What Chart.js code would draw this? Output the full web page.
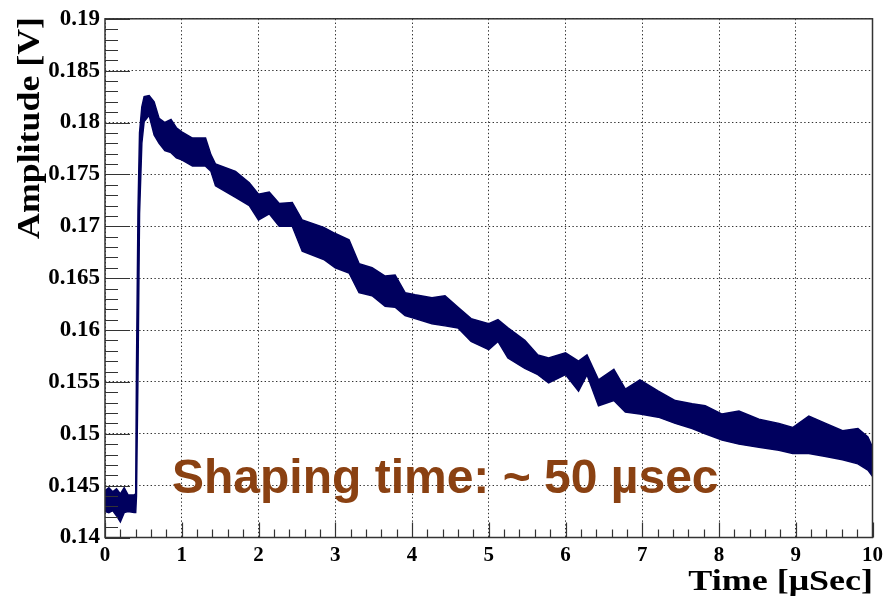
<!DOCTYPE html>
<html>
<head>
<meta charset="utf-8">
<script src="https://cdn.jsdelivr.net/npm/chart.js@4.4.0/dist/chart.umd.min.js"></script>
<style>
  html, body { margin: 0; padding: 0; background: #fff; }
  #wrap { width: 888px; height: 603px; }
</style>
</head>
<body>
<div id="wrap"><canvas id="pulse"></canvas></div>
<script>
// sampled trace envelope (time in usec, amplitude in V)
const times = [
  0.00, 0.05, 0.10, 0.15, 0.20, 0.25, 0.30, 0.38, 0.40, 0.41,
  0.43, 0.45, 0.48, 0.51, 0.575, 0.64, 0.705, 0.78, 0.86, 0.93,
  1.00, 1.14, 1.31, 1.38, 1.44, 1.70, 1.88, 2.00, 2.14, 2.27,
  2.44, 2.57, 2.85, 3.00, 3.18, 3.31, 3.48, 3.65, 3.78, 3.91,
  4.04, 4.26, 4.43, 4.60, 4.77, 5.00, 5.12, 5.25, 5.47, 5.64,
  5.78, 6.00, 6.17, 6.28, 6.43, 6.63, 6.78, 6.97, 7.21, 7.43,
  7.65, 7.82, 8.04, 8.26, 8.52, 8.78, 8.96, 9.17, 9.39, 9.61,
  9.81, 9.94, 10.00];
const upper = [
  0.1445, 0.1448, 0.1444, 0.1447, 0.1442, 0.1448, 0.1441, 0.1441, 0.1442, 0.1560,
  0.1715, 0.1790, 0.1815, 0.1825, 0.1826, 0.1820, 0.1804, 0.1800, 0.1803, 0.1795,
  0.1791, 0.1785, 0.1785, 0.1769, 0.1760, 0.1753, 0.1742, 0.1731, 0.1733, 0.1722,
  0.1723, 0.1706, 0.1699, 0.1693, 0.1687, 0.1664, 0.1660, 0.1652, 0.1653, 0.1636,
  0.1634, 0.1631, 0.1633, 0.1622, 0.1611, 0.1606, 0.1610, 0.1602, 0.1590, 0.1576,
  0.1573, 0.1578, 0.1570, 0.1576, 0.1552, 0.1562, 0.1543, 0.1552, 0.1541, 0.1532,
  0.1529, 0.1527, 0.1519, 0.1522, 0.1514, 0.1510, 0.1506, 0.1517, 0.1510, 0.1503,
  0.1505, 0.1497, 0.1487];
const lower = [
  0.1425, 0.1424, 0.1426, 0.1421, 0.1415, 0.1424, 0.1425, 0.1424, 0.1424, 0.1440,
  0.1560, 0.1712, 0.1780, 0.1801, 0.1807, 0.1788, 0.1780, 0.1773, 0.1771, 0.1766,
  0.1764, 0.1758, 0.1758, 0.1753, 0.1739, 0.1728, 0.1720, 0.1706, 0.1712, 0.1700,
  0.1700, 0.1676, 0.1668, 0.1660, 0.1655, 0.1636, 0.1633, 0.1623, 0.1622, 0.1614,
  0.1611, 0.1606, 0.1604, 0.1602, 0.1589, 0.1581, 0.1589, 0.1573, 0.1563, 0.1557,
  0.1549, 0.1557, 0.1541, 0.1557, 0.1527, 0.1532, 0.1521, 0.1519, 0.1516, 0.1510,
  0.1505, 0.1500, 0.1494, 0.1490, 0.1487, 0.1484, 0.1481, 0.1481, 0.1478, 0.1475,
  0.1471, 0.1465, 0.1459];

const xTicks = [0, 1, 2, 3, 4, 5, 6, 7, 8, 9, 10];
const yTicks = [0.14, 0.145, 0.15, 0.155, 0.16, 0.165, 0.17, 0.175, 0.18, 0.185, 0.19];

const navy = "#00005e";
const brown = "#8a4112";
const serif = "'Liberation Serif', 'Times New Roman', serif";

function pts(ys) {
  return times.map((t, i) => ({ x: t, y: ys[i] }));
}

// frame, inside ticks, axis titles and the note
const decor = {
  id: "decor",
  afterDraw(chart) {
    const ctx = chart.ctx;
    const a = chart.chartArea;
    const xs = chart.scales.x, ys = chart.scales.y;
    ctx.save();
    ctx.strokeStyle = "#333";
    ctx.lineWidth = 1.5;
    ctx.strokeRect(a.left, a.top, a.right - a.left, a.bottom - a.top);

    ctx.lineWidth = 1.2;
    ctx.beginPath();
    for (let i = 0; i <= 50; i++) {
      const py = Math.round(ys.getPixelForValue(0.14 + i * 0.001)) + 0.5;
      const len = i % 5 === 0 ? 25 : 13;
      ctx.moveTo(a.left, py);
      ctx.lineTo(a.left + len, py);
    }
    for (let i = 0; i <= 50; i++) {
      const px = Math.round(xs.getPixelForValue(i * 0.2)) + 0.5;
      const len = i % 5 === 0 ? 15 : 8;
      ctx.moveTo(px, a.bottom);
      ctx.lineTo(px, a.bottom - len);
    }
    ctx.stroke();

    ctx.fillStyle = "#000";
    ctx.textBaseline = "alphabetic";
    ctx.save();
    ctx.translate(873, 590);
    ctx.scale(1.2, 1);
    ctx.font = "bold 30px " + serif;
    ctx.textAlign = "right";
    ctx.fillText("Time [\u03bcSec]", 0, 0);
    ctx.restore();

    ctx.save();
    ctx.translate(39, 128);
    ctx.rotate(-Math.PI / 2);
    ctx.font = "bold 32px " + serif;
    ctx.textAlign = "center";
    ctx.scale(1.12, 1);
    ctx.fillText("Amplitude [V]", 0, 0);
    ctx.restore();

    ctx.fillStyle = brown;
    ctx.font = "bold 48px 'Liberation Sans', Arial, sans-serif";
    ctx.textAlign = "left";
    ctx.fillText("Shaping time: ~ 50 \u00b5sec", 172, 493);
    ctx.restore();
  }
};

const gridOpts = { color: "#333", lineWidth: 1, drawTicks: false };
const borderOpts = { display: false, dash: [1.4, 2.4] };

new Chart(document.getElementById("pulse"), {
  type: "line",
  data: {
    datasets: [
      {
        data: pts(upper),
        borderColor: navy,
        backgroundColor: navy,
        borderWidth: 1.5,
        pointRadius: 0,
        fill: "+1"
      },
      {
        data: pts(lower),
        borderColor: navy,
        backgroundColor: navy,
        borderWidth: 1.5,
        pointRadius: 0,
        fill: false
      }
    ]
  },
  options: {
    responsive: true,
    maintainAspectRatio: false,
    devicePixelRatio: 1,
    animation: false,
    layout: { padding: { top: 15, right: 14, left: 0, bottom: 0 } },
    plugins: { legend: { display: false }, tooltip: { enabled: false } },
    scales: {
      x: {
        type: "linear",
        min: 0,
        max: 10,
        afterFit(s) { s.height = 65.5; },
        afterBuildTicks(s) { s.ticks = xTicks.map(v => ({ value: v })); },
        border: borderOpts,
        grid: gridOpts,
        ticks: {
          color: "#000",
          padding: 5,
          maxRotation: 0,
          autoSkip: false,
          font: { family: serif, size: 21, weight: "bold" }
        }
      },
      y: {
        min: 0.14,
        max: 0.19,
        afterFit(s) { s.width = 105; },
        afterBuildTicks(s) { s.ticks = yTicks.map(v => ({ value: v })); },
        border: borderOpts,
        grid: gridOpts,
        ticks: {
          color: "#000",
          padding: 5,
          autoSkip: false,
          font: { family: serif, size: 23, weight: "bold" },
          callback: v => String(Number(v.toFixed(3)))
        }
      }
    }
  },
  plugins: [decor]
});
</script>
</body>
</html>
